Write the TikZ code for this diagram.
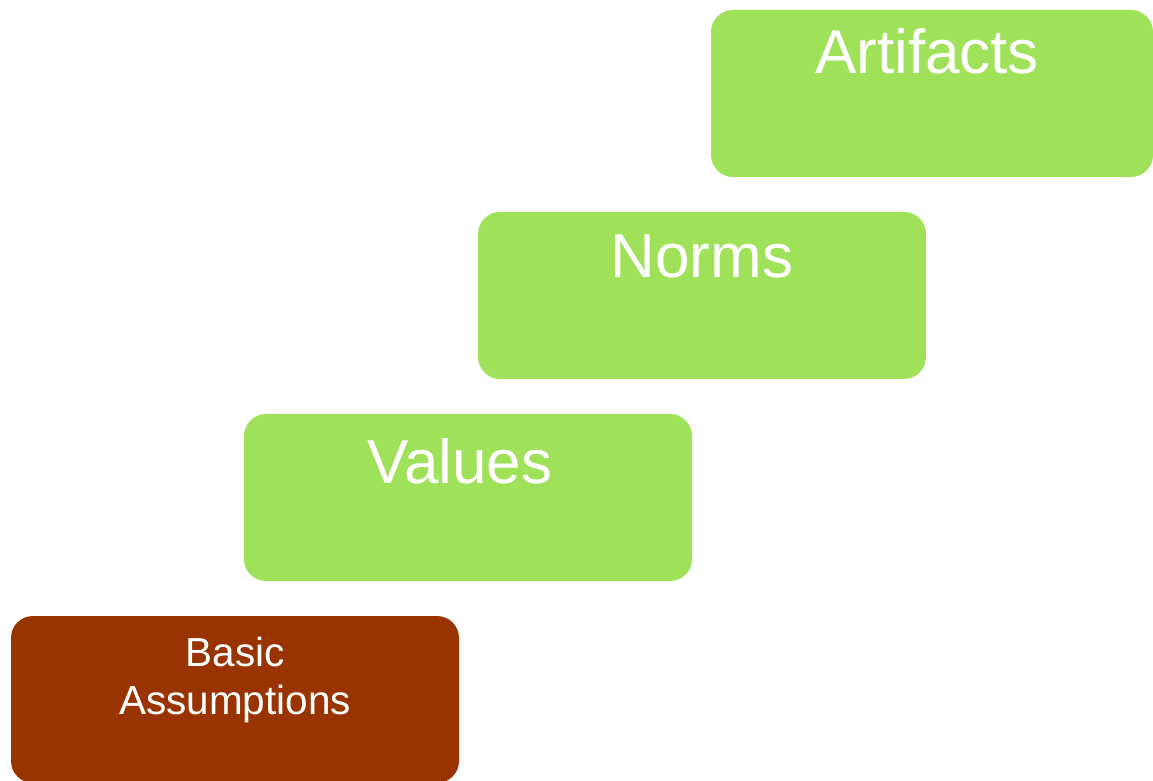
\documentclass[tikz,border=0pt]{standalone}
\usepackage{fontspec}
\setmainfont{Liberation Sans}
\definecolor{boxgreen}{RGB}{160,225,90}
\definecolor{boxbrown}{RGB}{153,51,0}
\begin{document}
\begin{tikzpicture}[x=1pt,y=1pt,
  tier/.style={rounded corners=22pt, fill=boxgreen, draw=none},
  bigtext/.style={anchor=base, text=white, font=\fontsize{62}{62}\selectfont, inner sep=0pt},
  smalltext/.style={anchor=base, text=white, font=\fontsize{40.5}{48}\selectfont, inner sep=0pt, align=center}]
\useasboundingbox (0,0) rectangle (1153,780);
\clip (0,0) rectangle (1153,780);
% Artifacts
\filldraw[tier] (711,603) rectangle (1153,770);
\node[bigtext] (art) at (927,706) {Artifacts};
% Norms
\filldraw[tier] (478,401) rectangle (926,568);
\node[bigtext] (norms) at (702,502) {Norms};
% Values
\filldraw[tier] (244,199) rectangle (692,366);
\node[bigtext] (values) at (460,297) {Values};
% Basic Assumptions
\filldraw[tier, fill=boxbrown] (11,-3) rectangle (459,164);
\node[smalltext] (basic) at (235,114) {Basic};
\node[smalltext] (assum) at (235,66) {Assumptions};
\end{tikzpicture}
\end{document}
